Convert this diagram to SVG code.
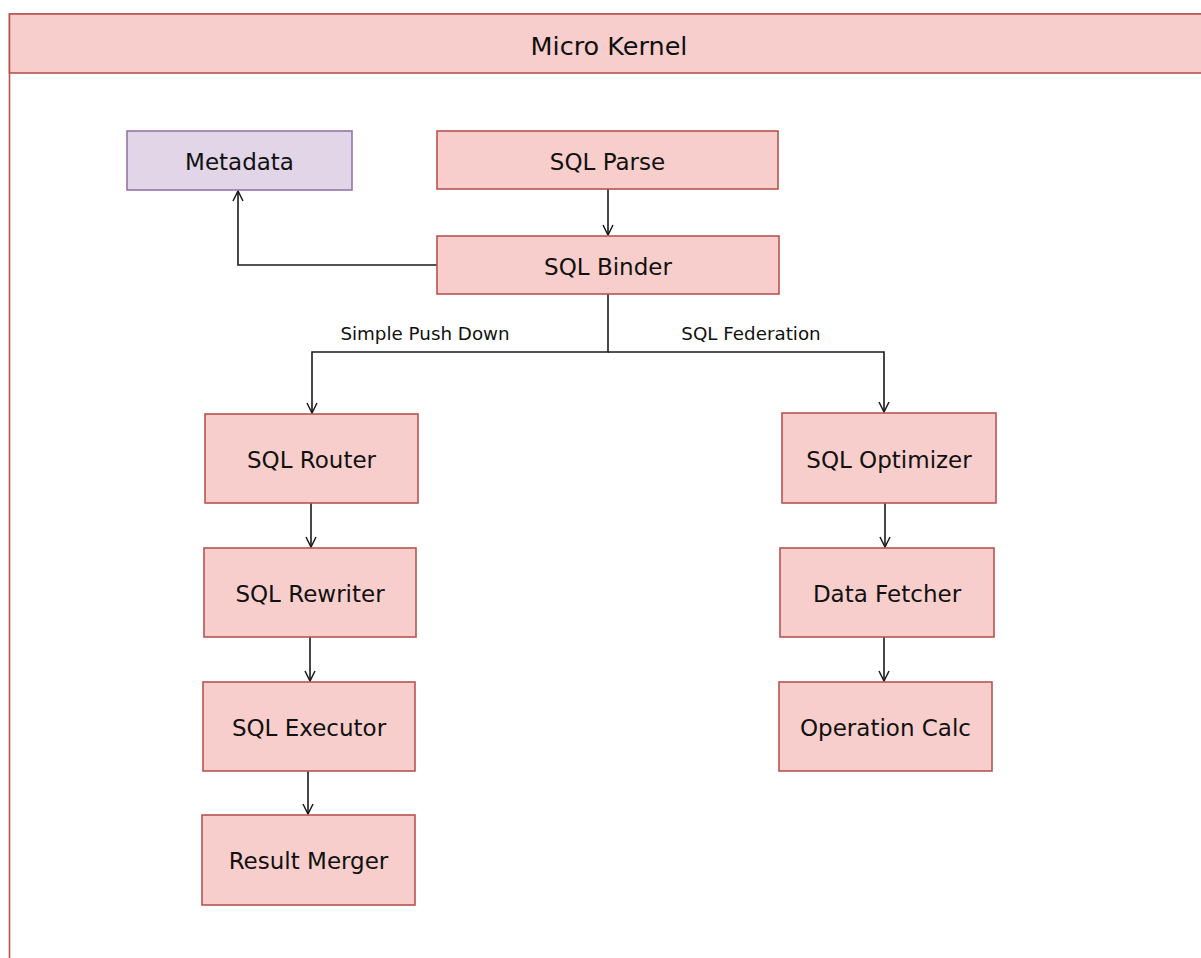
<svg xmlns="http://www.w3.org/2000/svg" width="1201" height="958" viewBox="0 0 1201 958">
<style>
.box{fill:#f8cecc;stroke:#b85450;stroke-width:1.6}
.meta{fill:#e1d5e7;stroke:#9673a6;stroke-width:1.6}
.t{font-family:"Comic Sans MS","DejaVu Sans","Noto Sans",sans-serif;font-size:23px;fill:#111;text-anchor:middle;dominant-baseline:central}
.lbl{font-family:"Comic Sans MS","DejaVu Sans","Noto Sans",sans-serif;font-size:18.3px;fill:#111;text-anchor:middle}
.c{fill:none;stroke:#1a1a1a;stroke-width:1.6}
</style>
<defs>
<marker id="arr" viewBox="0 0 12 12" refX="11" refY="6" markerWidth="12" markerHeight="12" markerUnits="userSpaceOnUse" orient="auto">
<path d="M1,1 L11,6 L1,11" fill="none" stroke="#1a1a1a" stroke-width="1.5"/>
</marker>
</defs>
<rect width="1201" height="958" fill="#fff"/>
<g id="container">
<rect x="9.5" y="14" width="1260" height="1000" fill="#fff" stroke="#b85450" stroke-width="1.6"/>
<rect x="9.5" y="14" width="1260" height="59" class="box"/>
<text x="609" y="46" class="t" style="font-size:25.5px">Micro Kernel</text>
</g>
<g id="connectors">
<path class="c" d="M608,189 V235" marker-end="url(#arr)"/>
<path class="c" d="M437,265 H238 V191" marker-end="url(#arr)"/>
<path class="c" d="M608,294 V352 H312 V413" marker-end="url(#arr)"/>
<path class="c" d="M608,352 H884 V412" marker-end="url(#arr)"/>
<path class="c" d="M311,503 V547" marker-end="url(#arr)"/>
<path class="c" d="M310,637 V681" marker-end="url(#arr)"/>
<path class="c" d="M308,771 V814" marker-end="url(#arr)"/>
<path class="c" d="M885,503 V547" marker-end="url(#arr)"/>
<path class="c" d="M884,637 V681" marker-end="url(#arr)"/>
<text x="425" y="340" class="lbl">Simple Push Down</text>
<text x="751" y="340" class="lbl">SQL Federation</text>
</g>
<g id="metadata"><rect x="127" y="131" width="225" height="59" class="meta"/><text x="239.5" y="162" class="t">Metadata</text></g>
<g id="sql-parse"><rect x="437" y="131" width="341" height="58" class="box"/><text x="607.5" y="162" class="t">SQL Parse</text></g>
<g id="sql-binder"><rect x="437" y="236" width="342" height="58" class="box"/><text x="608" y="267" class="t">SQL Binder</text></g>
<g id="sql-router"><rect x="205" y="414" width="213" height="89" class="box"/><text x="311.5" y="460" class="t">SQL Router</text></g>
<g id="sql-rewriter"><rect x="204" y="548" width="212" height="89" class="box"/><text x="310" y="594" class="t">SQL Rewriter</text></g>
<g id="sql-executor"><rect x="203" y="682" width="212" height="89" class="box"/><text x="309" y="728" class="t">SQL Executor</text></g>
<g id="result-merger"><rect x="202" y="815" width="213" height="90" class="box"/><text x="308.5" y="861" class="t">Result Merger</text></g>
<g id="sql-optimizer"><rect x="782" y="413" width="214" height="90" class="box"/><text x="889" y="460" class="t">SQL Optimizer</text></g>
<g id="data-fetcher"><rect x="780" y="548" width="214" height="89" class="box"/><text x="887" y="594" class="t">Data Fetcher</text></g>
<g id="operation-calc"><rect x="779" y="682" width="213" height="89" class="box"/><text x="885.5" y="728" class="t">Operation Calc</text></g>
</svg>
